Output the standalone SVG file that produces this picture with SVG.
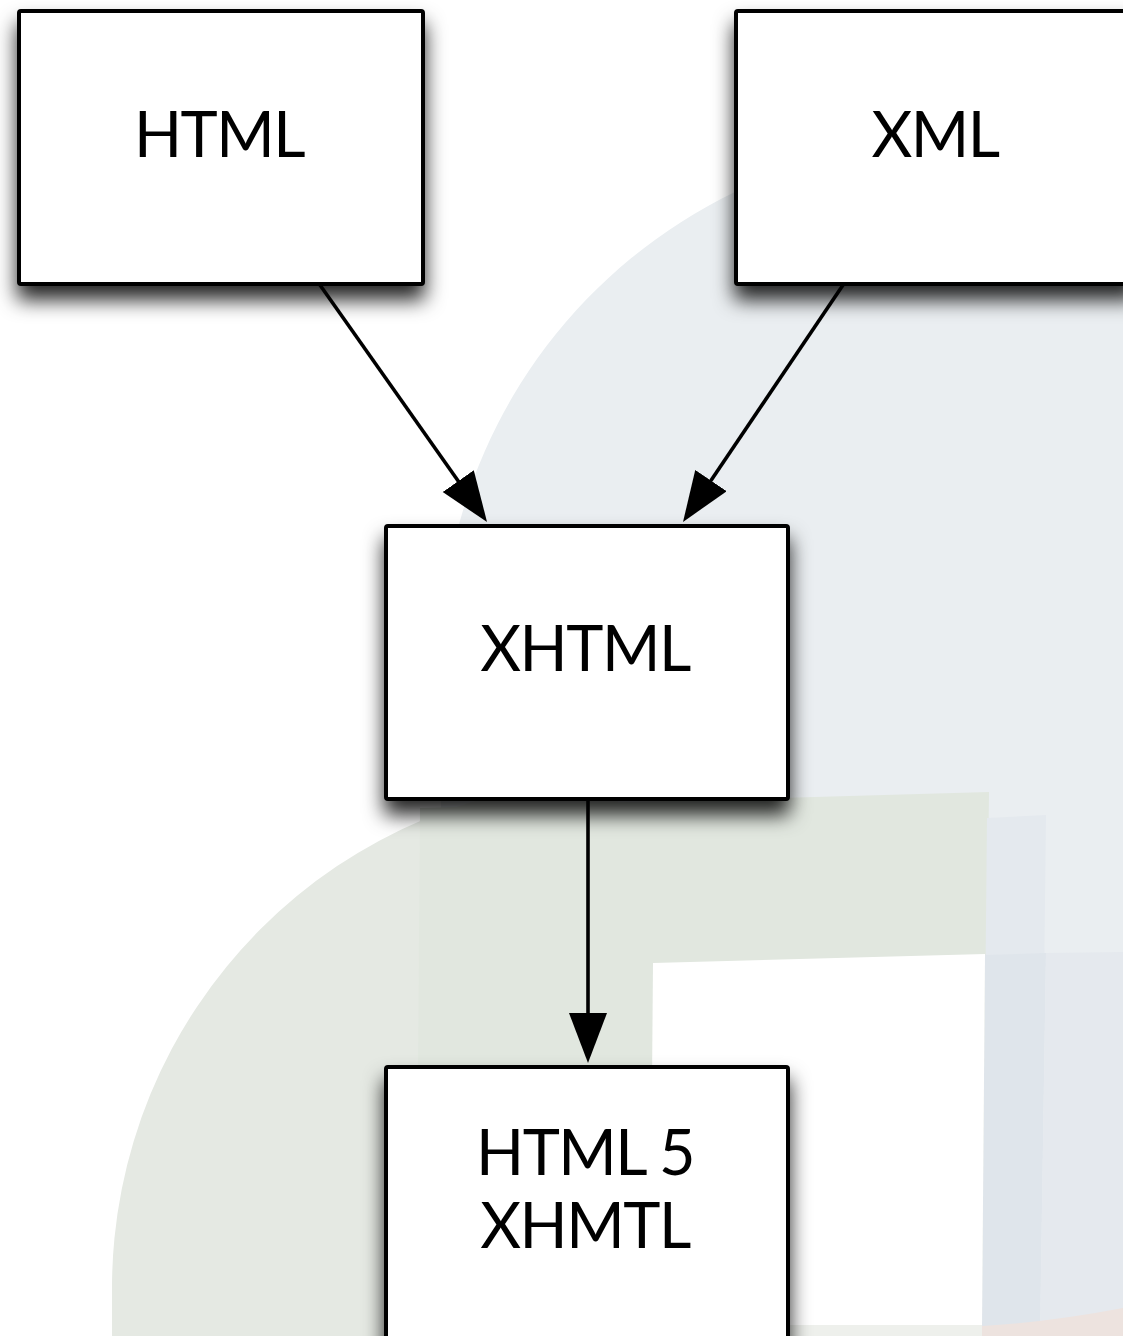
<svg xmlns="http://www.w3.org/2000/svg" width="1123" height="1336" viewBox="0 0 1123 1336">
<defs>
<style>
.box{fill:#ffffff;stroke:#000000;stroke-width:4;}
.lbl{font-family:Lato,"Open Sans","Liberation Sans",sans-serif;font-size:63px;letter-spacing:-1.5px;fill:#000000;text-anchor:middle;}
.edge{stroke:#000000;stroke-width:3.6;fill:none;}
</style>
<filter id="shadow" x="-20%" y="-20%" width="140%" height="160%">
<feDropShadow dx="0" dy="14" stdDeviation="10" flood-color="#000000" flood-opacity="0.85"/>
</filter>
<marker id="arrow" markerUnits="userSpaceOnUse" markerWidth="52" markerHeight="40" refX="10" refY="19" orient="auto">
<path d="M0,0 L50,19 L0,38 Z" fill="#000000"/>
</marker>
</defs>
<g id="background">
<path d="M1123 167 A519 519 0 0 0 441 660 L441 1336 L1123 1336 Z" fill="#eaeef1"/>
<path d="M112 1336 L112 1288 A508 508 0 0 1 618 780 L618 1336 Z" fill="#e5e9e3"/>
<polygon points="420,808 989,792 983,1336 416,1336" fill="#e1e7df"/>
<polygon points="987,818 1046,815 1040,1336 982,1336" fill="#e4e9ee"/>
<polygon points="985,955 1046,953 1040,1336 982,1336" fill="#dfe5eb"/>
<polygon points="1046,953 1123,952 1123,1336 1040,1336" fill="#e5e9ee"/>
<polygon points="653,963 985,954 982,1326 650,1326" fill="#ffffff"/>
<rect x="650" y="1325" width="332" height="11" fill="#eef0ec"/>
<path d="M982 1326 Q1050 1322 1123 1308 L1123 1336 L982 1336 Z" fill="#ede3df"/>
</g>
<g id="node-html" filter="url(#shadow)">
<rect class="box" x="19" y="11" width="404" height="273" rx="2"/>
<text class="lbl" x="219" y="157">HTML</text>
</g>
<g id="node-xml" filter="url(#shadow)">
<rect class="box" x="736" y="11" width="400" height="273" rx="2"/>
<text class="lbl" x="935" y="157">XML</text>
</g>
<g id="node-xhtml" filter="url(#shadow)">
<rect class="box" x="386" y="526" width="402" height="273" rx="2"/>
<text class="lbl" x="585" y="671">XHTML</text>
</g>
<g id="node-html5" filter="url(#shadow)">
<rect class="box" x="386" y="1067" width="402" height="300" rx="2"/>
<text class="lbl" x="585" y="1175">HTML 5</text>
<text class="lbl" x="585" y="1248">XHMTL</text>
</g>
<g id="connectors">
<line class="edge" x1="320" y1="285" x2="464" y2="489.3" marker-end="url(#arrow)"/>
<line class="edge" x1="843" y1="285" x2="705.4" y2="488.8" marker-end="url(#arrow)"/>
<line class="edge" x1="588" y1="800" x2="588" y2="1023" marker-end="url(#arrow)"/>
</g>
</svg>
